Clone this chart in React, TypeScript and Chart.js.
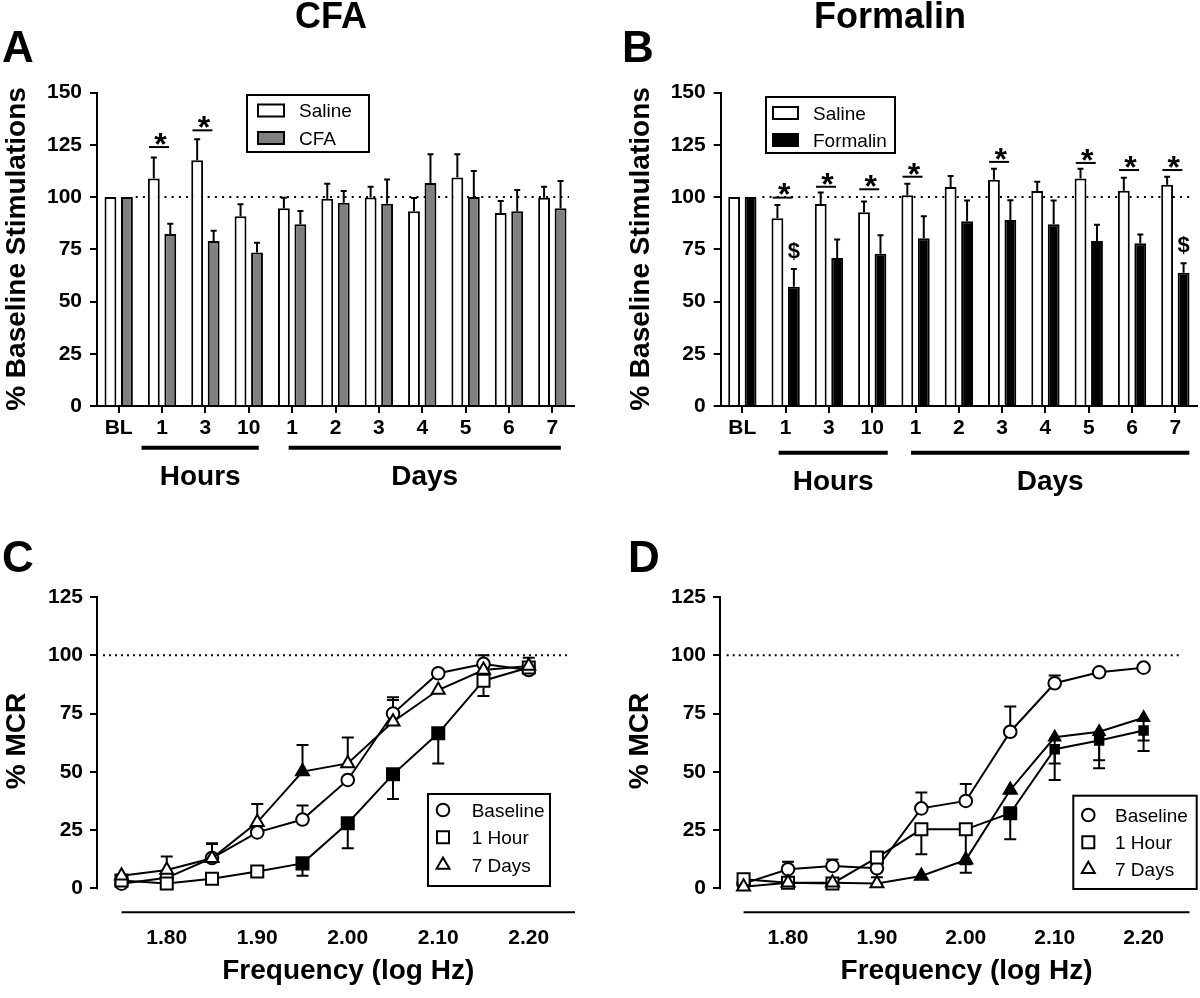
import React, { useEffect, useRef } from "react";
import { Chart, registerables } from "chart.js";

Chart.register(...registerables);

const FONT = "'Liberation Sans', Arial, Helvetica, sans-serif";
const BLACK = "#000000";

// ---------- Panels A & B (bar charts) ----------
const timeLabels = ["BL", "1", "3", "10", "1", "2", "3", "4", "5", "6", "7"];

// Panel A – CFA
const cfaSaline = [100, 108.9, 117.6, 90.8, 94.6, 99.2, 99.8, 93.2, 109.3, 92.4, 99.7];
const cfaSalineSem = [0, 10.0, 10.0, 5.7, 5.1, 7.1, 5.1, 6.3, 11.1, 5.7, 5.2];
const cfaTreated = [100, 82.3, 78.9, 73.5, 87.0, 97.3, 96.8, 106.7, 100.0, 93.2, 94.6];
const cfaTreatedSem = [0, 4.9, 4.9, 4.6, 6.3, 5.6, 11.6, 13.7, 12.4, 10.1, 13.0];
const cfaStarIndex = [1, 2];
const cfaStarLevel = [123.9, 131.9];

// Panel B – Formalin
const formSaline = [100, 89.8, 96.7, 92.7, 100.8, 104.8, 108.3, 102.9, 108.9, 103.0, 105.9];
const formSalineSem = [0, 6.4, 5.4, 5.1, 5.5, 5.2, 5.2, 4.4, 4.6, 6.2, 3.8];
const formTreated = [100, 57.1, 70.8, 72.9, 80.3, 88.4, 89.0, 87.0, 78.9, 77.9, 63.7];
const formTreatedSem = [0, 8.5, 8.9, 8.8, 10.5, 9.9, 9.4, 11.3, 7.8, 4.1, 4.6];
const formStarIndex = [1, 2, 3, 4, 6, 8, 9, 10];
const formStarLevel = [99.7, 104.9, 103.7, 109.7, 116.8, 116.3, 112.9, 112.9];
const formDollarIndex = [1, 10];
const formDollarLevel = [74.3, 77.5];

// ---------- Panels C & D (frequency-response curves) ----------
const freqLogHz = [1.75, 1.8, 1.85, 1.9, 1.95, 2.0, 2.05, 2.1, 2.15, 2.2];
const freqTicks = [1.8, 1.9, 2.0, 2.1, 2.2];
const mcrTicks = [0, 25, 50, 75, 100, 125];

// Panel C – CFA (sem sign: + drawn upward, - drawn downward)
const cBaseline = [2, 4.5, 13, 24, 29.5, 46.5, 75, 92.3, 96.3, 93.7];
const cBaselineSem = [0, 0, 6, 0, 6, 0, 7, 0, 3.7, 0];
const cHour = [3.3, 2.1, 4.1, 7.2, 10.7, 27.9, 48.9, 66.5, 89.1, 94.8];
const cHourSem = [0, 0, 0, -1.5, -5.3, -10.7, -10.6, -12.9, -6.6, 0];
const cHourFilled = [0, 0, 0, 0, 1, 1, 1, 1, 0, 0];
const cDays = [5.4, 7.9, 12.9, 28.3, 50.1, 53.6, 71.5, 85.1, 93.7, 95.4];
const cDaysSem = [0, 5.7, 6.4, 7.9, 11.4, 11.1, 9.3, 0, 0, 3.6];
const cDaysFilled = [0, 0, 0, 0, 1, 0, 0, 0, 0, 0];

// Panel D – Formalin
const dBaseline = [2, 8.2, 9.6, 8.6, 34.3, 37.5, 67.2, 88.0, 92.7, 94.7];
const dBaselineSem = [0, 3.2, 2.8, 2.8, 6.8, 7.3, 10.8, 3.3, 0, 0];
const dHour = [3.9, 2.4, 2.1, 13.2, 25.3, 25.3, 32.2, 59.7, 63.4, 67.7];
const dHourSem = [0, 0, 0, 0, -10.7, -15, -11.2, -13.2, -11.9, -8.8];
const dHourFilled = [0, 0, 0, 0, 0, 0, 1, 1, 1, 1];
const dDays = [0.7, 2.4, 2.4, 2.1, 5.3, 12.2, 42.2, 64.8, 67.2, 73.2];
const dDaysSem = [0, 0, 0, 2.6, 0, -5.5, 0, -11.2, -12.2, -9.8];
const dDaysFilled = [0, 0, 0, 0, 1, 1, 1, 1, 1, 1];

// ---------- drawing helpers ----------
function text(ctx: any, s: string, x: number, y: number, font: string, align = "left") {
  ctx.save();
  ctx.font = font;
  ctx.fillStyle = BLACK;
  ctx.textAlign = align;
  ctx.textBaseline = "alphabetic";
  ctx.fillText(s, x, y);
  ctx.restore();
}

function yTitle(ctx: any, s: string, x: number, cy: number) {
  ctx.save();
  ctx.translate(x, cy);
  ctx.rotate(-Math.PI / 2);
  ctx.font = `bold 28px ${FONT}`;
  ctx.fillStyle = BLACK;
  ctx.textAlign = "center";
  ctx.textBaseline = "alphabetic";
  ctx.fillText(s, 0, 0);
  ctx.restore();
}

function line(ctx: any, x0: number, y0: number, x1: number, y1: number, w = 2, dash: number[] = []) {
  ctx.save();
  ctx.strokeStyle = BLACK;
  ctx.lineWidth = w;
  ctx.setLineDash(dash);
  ctx.beginPath();
  ctx.moveTo(x0, y0);
  ctx.lineTo(x1, y1);
  ctx.stroke();
  ctx.restore();
}

function drawErrorBars(chart: any, cap: number) {
  const ctx = chart.ctx;
  const ys = chart.scales.y;
  chart.data.datasets.forEach((ds: any, di: number) => {
    const sem: number[] | undefined = ds.sem;
    if (!sem) return;
    const meta = chart.getDatasetMeta(di);
    meta.data.forEach((el: any, i: number) => {
      const e = sem[i];
      if (!e) return;
      const raw: any = ds.data[i];
      const v = typeof raw === "number" ? raw : raw.y;
      const x = el.x;
      const y0 = ys.getPixelForValue(v);
      const y1 = ys.getPixelForValue(v + e);
      ctx.save();
      ctx.strokeStyle = BLACK;
      ctx.lineWidth = 2;
      ctx.beginPath();
      ctx.moveTo(x, y0);
      ctx.lineTo(x, y1);
      ctx.moveTo(x - cap / 2, y1);
      ctx.lineTo(x + cap / 2, y1);
      ctx.stroke();
      ctx.restore();
    });
  });
}

function drawMarker(ctx: any, shape: string, x: number, y: number, r: number, fill: string) {
  ctx.save();
  ctx.beginPath();
  if (shape === "circle") {
    ctx.arc(x, y, r, 0, Math.PI * 2);
  } else if (shape === "rect") {
    const s = r * Math.SQRT1_2;
    ctx.rect(x - s, y - s, 2 * s, 2 * s);
  } else {
    let rad = 0;
    ctx.moveTo(x + Math.sin(rad) * r, y - Math.cos(rad) * r);
    rad += (2 * Math.PI) / 3;
    ctx.lineTo(x + Math.sin(rad) * r, y - Math.cos(rad) * r);
    rad += (2 * Math.PI) / 3;
    ctx.lineTo(x + Math.sin(rad) * r, y - Math.cos(rad) * r);
    ctx.closePath();
  }
  ctx.fillStyle = fill;
  ctx.fill();
  ctx.lineWidth = 2;
  ctx.strokeStyle = BLACK;
  ctx.stroke();
  ctx.restore();
}

// ---------- bar panel config ----------
function barConfig(p: any) {
  const tickFont = { family: FONT, size: 21, weight: "bold" };
  const decor = {
    id: "decor" + p.key,
    beforeDatasetsDraw(chart: any) {
      const ctx = chart.ctx;
      const xs = chart.scales.x;
      const ys = chart.scales.y;
      const y100 = ys.getPixelForValue(100);
      line(ctx, xs.getPixelForValue(0) + p.dotStart, y100, chart.chartArea.right - p.dotEndGap, y100, 2, [2, 5.2]);
      drawErrorBars(chart, 6);
    },
    afterDatasetsDraw(chart: any) {
      const ctx = chart.ctx;
      const xs = chart.scales.x;
      const ys = chart.scales.y;
      p.stars.forEach((ci: number, k: number) => {
        const x = xs.getPixelForValue(ci);
        const y = ys.getPixelForValue(p.starLevels[k]);
        line(ctx, x - 13, y, x + 7, y, 2);
        text(ctx, "*", x - 1.5, y + 7.8, `bold 32px ${FONT}`, "center");
      });
      const meta = chart.getDatasetMeta(1);
      p.dollars.forEach((ci: number, k: number) => {
        const x = meta.data[ci].x;
        const y = ys.getPixelForValue(p.dollarLevels[k]);
        text(ctx, "$", x, y + 7.5, `bold 22px ${FONT}`, "center");
      });
    },
    afterDraw(chart: any) {
      const ctx = chart.ctx;
      const xs = chart.scales.x;
      text(ctx, p.letter, p.letterX, 61.7, `bold 44px ${FONT}`, "left");
      text(ctx, p.title, p.titleX, 28.3, `bold 36px ${FONT}`, "center");
      yTitle(ctx, "% Baseline Stimulations", p.yTitleX, 249);
      const L = p.legend;
      ctx.save();
      ctx.strokeStyle = BLACK;
      ctx.lineWidth = 2;
      ctx.strokeRect(L.x, L.y, L.w, L.h);
      L.rows.forEach((r: any) => {
        ctx.fillStyle = r.fill;
        ctx.fillRect(L.swX, r.cy - 6, L.swW, 12);
        ctx.strokeRect(L.swX, r.cy - 6, L.swW, 12);
        text(ctx, r.label, L.textX, r.cy + 6.8, `19px ${FONT}`, "left");
      });
      ctx.restore();
      p.brackets.forEach((b: any) => {
        const x0 = xs.getPixelForValue(b.from) + b.fromOff;
        const x1 = xs.getPixelForValue(b.to) + b.toOff;
        line(ctx, x0, b.y, x1, b.y, 4);
        text(ctx, b.label, (x0 + x1) / 2, b.textY, `bold 28px ${FONT}`, "center");
      });
    },
  };

  return {
    type: "bar",
    data: {
      labels: timeLabels,
      datasets: [
        {
          label: "Saline",
          data: p.saline,
          sem: p.salineSem,
          backgroundColor: "#ffffff",
          borderColor: BLACK,
          borderWidth: 2,
          borderSkipped: "start",
          categoryPercentage: 0.76,
          barPercentage: 0.72,
        },
        {
          label: p.treatLabel,
          data: p.treated,
          sem: p.treatedSem,
          backgroundColor: p.treatColor,
          borderColor: BLACK,
          borderWidth: 2,
          borderSkipped: "start",
          categoryPercentage: 0.76,
          barPercentage: 0.72,
        },
      ],
    },
    options: {
      responsive: false,
      animation: false,
      events: [],
      layout: { padding: { left: 0, top: 92.5, right: p.padRight, bottom: 0 } },
      plugins: { legend: { display: false }, tooltip: { enabled: false }, title: { display: false } },
      scales: {
        x: {
          type: "category",
          offset: true,
          grid: { display: true, drawOnChartArea: false, offset: false, drawTicks: true, tickLength: 7, color: BLACK, lineWidth: 2 },
          border: { display: true, color: BLACK, width: 2 },
          ticks: { color: BLACK, font: tickFont, padding: 3, maxRotation: 0, autoSkip: false },
          afterFit: (s: any) => {
            s.height = 104;
          },
        },
        y: {
          type: "linear",
          min: 0,
          max: 150,
          ticks: { stepSize: 25, color: BLACK, font: tickFont, padding: 8 },
          grid: { display: true, drawOnChartArea: false, drawTicks: true, tickLength: 7, color: BLACK, lineWidth: 2 },
          border: { display: true, color: BLACK, width: 2 },
          afterFit: (s: any) => {
            s.width = p.yWidth;
          },
        },
      },
    },
    plugins: [decor],
  };
}

// ---------- line panel config ----------
function lineConfig(p: any) {
  const tickFont = { family: FONT, size: 21, weight: "bold" };
  const series = [
    { label: "Baseline", y: p.baseline, sem: p.baselineSem, shape: "circle", filled: p.baseline.map(() => 0), radius: p.baseline.map(() => 6.3), order: 3 },
    { label: "1 Hour", y: p.hour, sem: p.hourSem, shape: "rect", filled: p.hourFilled, radius: p.hourRadius, order: 2 },
    { label: "7 Days", y: p.days, sem: p.daysSem, shape: "triangle", filled: p.daysFilled, radius: p.daysRadius, order: 1 },
  ];
  const decor = {
    id: "decor" + p.key,
    beforeDatasetsDraw(chart: any) {
      const ctx = chart.ctx;
      const ys = chart.scales.y;
      const xs = chart.scales.x;
      const ca = chart.chartArea;
      line(ctx, ca.left, ys.getPixelForValue(0) + 1, ca.left, ys.getPixelForValue(125) - 1, 2);
      line(ctx, xs.getPixelForValue(1.75), ca.bottom, ca.right, ca.bottom, 2);
      const y100 = ys.getPixelForValue(100);
      line(ctx, ca.left + p.dotStart, y100, ca.right - 8, y100, 2, [2, 4]);
      drawErrorBars(chart, 12);
    },
    afterDraw(chart: any) {
      const ctx = chart.ctx;
      const xs = chart.scales.x;
      const ca = chart.chartArea;
      text(ctx, p.letter, p.letterX, 61.7, `bold 44px ${FONT}`, "left");
      yTitle(ctx, "% MCR", p.yTitleX, 231);
      const x0 = xs.getPixelForValue(1.75);
      text(ctx, "Frequency (log Hz)", (x0 + ca.right) / 2, 469, `bold 28px ${FONT}`, "center");
      const L = p.legend;
      ctx.save();
      ctx.strokeStyle = BLACK;
      ctx.lineWidth = 2;
      ctx.strokeRect(L.x, L.y, L.w, L.h);
      ctx.restore();
      series.forEach((s, k) => {
        const cy = L.rowY[k];
        drawMarker(ctx, s.shape, L.markX, cy, s.shape === "triangle" ? 7.5 : s.shape === "rect" ? 8.5 : 6.3, "#ffffff");
        text(ctx, s.label, L.textX, cy + 6.8, `19px ${FONT}`, "left");
      });
    },
  };

  return {
    type: "line",
    data: {
      datasets: series.map((s) => ({
        label: s.label,
        data: freqLogHz.map((x, i) => ({ x, y: s.y[i] })),
        sem: s.sem,
        borderColor: BLACK,
        borderWidth: 2,
        tension: 0,
        pointStyle: s.shape,
        pointRadius: s.radius,
        pointBorderWidth: 2,
        pointBorderColor: BLACK,
        pointBackgroundColor: s.filled.map((f: number) => (f ? BLACK : "#ffffff")),
        order: s.order,
        clip: false,
      })),
    },
    options: {
      responsive: false,
      animation: false,
      events: [],
      layout: { padding: { left: 0, top: 87.05, right: p.padRight, bottom: 0 } },
      plugins: { legend: { display: false }, tooltip: { enabled: false }, title: { display: false } },
      scales: {
        x: {
          type: "linear",
          min: p.xMin,
          max: p.xMax,
          afterBuildTicks: (s: any) => {
            s.ticks = freqTicks.map((v) => ({ value: v }));
          },
          grid: { display: false },
          border: { display: false },
          ticks: { color: BLACK, font: tickFont, padding: 5, maxRotation: 0, callback: (v: any) => Number(v).toFixed(2) },
          afterFit: (s: any) => {
            s.height = 85.7;
          },
        },
        y: {
          type: "linear",
          min: -10.3,
          max: 125,
          afterBuildTicks: (s: any) => {
            s.ticks = mcrTicks.map((v) => ({ value: v }));
          },
          grid: { display: true, drawOnChartArea: false, drawTicks: true, tickLength: 7, color: BLACK, lineWidth: 2 },
          border: { display: false },
          ticks: { color: BLACK, font: tickFont, padding: 7 },
          afterFit: (s: any) => {
            s.width = p.yWidth;
          },
        },
      },
    },
    plugins: [decor],
  };
}

const buildA = () =>
  barConfig({
    key: "A",
    saline: cfaSaline,
    salineSem: cfaSalineSem,
    treated: cfaTreated,
    treatedSem: cfaTreatedSem,
    treatLabel: "CFA",
    treatColor: "#808080",
    stars: cfaStarIndex,
    starLevels: cfaStarLevel,
    dollars: [],
    dollarLevels: [],
    yWidth: 97,
    padRight: 26,
    dotStart: 17,
    dotEndGap: 5,
    letter: "A",
    letterX: 2,
    title: "CFA",
    titleX: 331,
    yTitleX: 25,
    legend: {
      x: 247, y: 95, w: 122, h: 57, swX: 258, swW: 26, textX: 299,
      rows: [
        { cy: 110.5, fill: "#ffffff", label: "Saline" },
        { cy: 138, fill: "#808080", label: "CFA" },
      ],
    },
    brackets: [
      { from: 1, fromOff: -20.5, to: 3, toOff: 10, y: 447.7, label: "Hours", textY: 485 },
      { from: 4, fromOff: -3.5, to: 10, toOff: 8.5, y: 447.7, label: "Days", textY: 485 },
    ],
  });

const buildB = () =>
  barConfig({
    key: "B",
    saline: formSaline,
    salineSem: formSalineSem,
    treated: formTreated,
    treatedSem: formTreatedSem,
    treatLabel: "Formalin",
    treatColor: "#000000",
    stars: formStarIndex,
    starLevels: formStarLevel,
    dollars: formDollarIndex,
    dollarLevels: formDollarLevel,
    yWidth: 120.7,
    padRight: 3,
    dotStart: 20,
    dotEndGap: 7,
    letter: "B",
    letterX: 22,
    title: "Formalin",
    titleX: 290,
    yTitleX: 48.7,
    legend: {
      x: 166, y: 97, w: 129, h: 56, swX: 173, swW: 25, textX: 213,
      rows: [
        { cy: 113, fill: "#ffffff", label: "Saline" },
        { cy: 140, fill: "#000000", label: "Formalin" },
      ],
    },
    brackets: [
      { from: 1, fromOff: -7, to: 3, toOff: 15.5, y: 452.7, label: "Hours", textY: 490 },
      { from: 4, fromOff: -4.5, to: 10, toOff: 14, y: 452.7, label: "Days", textY: 490 },
    ],
  });

const buildC = () =>
  lineConfig({
    key: "C",
    baseline: cBaseline,
    baselineSem: cBaselineSem,
    hour: cHour,
    hourSem: cHourSem,
    hourFilled: cHourFilled,
    hourRadius: cHour.map(() => 8.5),
    days: cDays,
    daysSem: cDaysSem,
    daysFilled: cDaysFilled,
    daysRadius: cDays.map(() => 7.5),
    xMin: 1.72293,
    xMax: 2.2511,
    yWidth: 97,
    padRight: 25,
    dotStart: 6,
    letter: "C",
    letterX: 2,
    yTitleX: 25,
    legend: { x: 428, y: 284, w: 122, h: 92, markX: 443, textX: 471.7, rowY: [300, 327.3, 355] },
  });

const buildD = () =>
  lineConfig({
    key: "D",
    baseline: dBaseline,
    baselineSem: dBaselineSem,
    hour: dHour,
    hourSem: dHourSem,
    hourFilled: dHourFilled,
    hourRadius: dHour.map((_, i) => (i >= 7 ? 6 : 8.5)),
    days: dDays,
    daysSem: dDaysSem,
    daysFilled: dDaysFilled,
    daysRadius: dDays.map((_, i) => (i >= 7 ? 6.5 : 7.5)),
    xMin: 1.72348,
    xMax: 2.25166,
    yWidth: 120,
    padRight: 2,
    dotStart: 6.7,
    letter: "D",
    letterX: 28,
    yTitleX: 48,
    legend: { x: 473.3, y: 285.7, w: 123.4, h: 93.3, markX: 488.3, textX: 515, rowY: [305, 332.3, 359.3] },
  });

function Panel({ left, top, width, height, build }: any) {
  const ref = useRef<HTMLCanvasElement>(null);
  useEffect(() => {
    const chart = new Chart(ref.current as HTMLCanvasElement, build() as any);
    return () => chart.destroy();
  }, []);
  return (
    <div style={{ position: "absolute", left, top, width, height }}>
      <canvas ref={ref} width={width} height={height} style={{ width, height, display: "block" }} />
    </div>
  );
}

export default function App() {
  return (
    <div style={{ position: "absolute", left: 0, top: 0, width: 1200, height: 998, background: "#ffffff", overflow: "hidden" }}>
      <Panel left={0} top={0} width={600} height={510} build={buildA} />
      <Panel left={600} top={0} width={600} height={510} build={buildB} />
      <Panel left={0} top={510} width={600} height={488} build={buildC} />
      <Panel left={600} top={510} width={600} height={488} build={buildD} />
    </div>
  );
}
